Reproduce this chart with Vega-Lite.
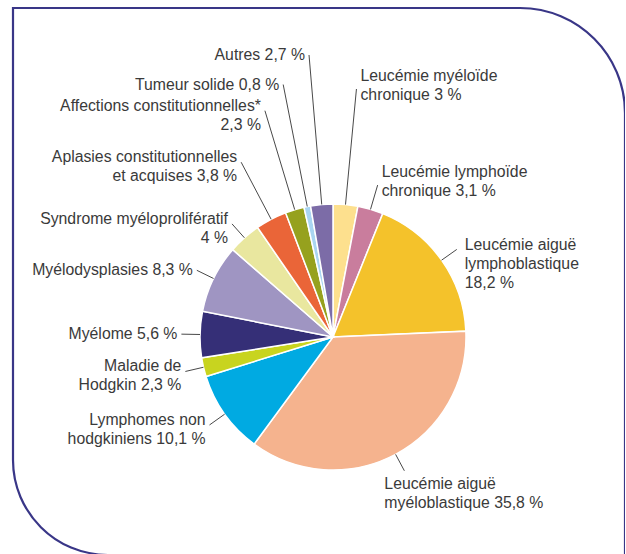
{
  "$schema": "https://vega.github.io/schema/vega-lite/v6.json",
  "width": 612,
  "height": 547,
  "autosize": {"type": "none"},
  "padding": {"left": 13, "top": 8, "right": 0, "bottom": 0},
  "background": "white",
  "config": {
    "view": {"stroke": null},
    "text": {"font": "Liberation Sans", "fontSize": 15.8, "color": "#3a3a3a", "lineHeight": 19}
  },
  "data": {
    "values": [
      {"order": 1, "cat": "Leucémie myéloïde chronique", "value": 3, "label": "Leucémie myéloïde\nchronique 3 %"},
      {"order": 2, "cat": "Leucémie lymphoïde chronique", "value": 3.1, "label": "Leucémie lymphoïde\nchronique 3,1 %"},
      {"order": 3, "cat": "Leucémie aiguë lymphoblastique", "value": 18.2, "label": "Leucémie aiguë\nlymphoblastique\n18,2 %"},
      {"order": 4, "cat": "Leucémie aiguë myéloblastique", "value": 35.8, "label": "Leucémie aiguë\nmyéloblastique 35,8 %"},
      {"order": 5, "cat": "Lymphomes non hodgkiniens", "value": 10.1, "label": "Lymphomes non\nhodgkiniens 10,1 %"},
      {"order": 6, "cat": "Maladie de Hodgkin", "value": 2.3, "label": "Maladie de\nHodgkin 2,3 %"},
      {"order": 7, "cat": "Myélome", "value": 5.6, "label": "Myélome 5,6 %"},
      {"order": 8, "cat": "Myélodysplasies", "value": 8.3, "label": "Myélodysplasies 8,3 %"},
      {"order": 9, "cat": "Syndrome myéloprolifératif", "value": 4, "label": "Syndrome myéloprolifératif\n4 %"},
      {"order": 10, "cat": "Aplasies constitutionnelles et acquises", "value": 3.8, "label": "Aplasies constitutionnelles\net acquises 3,8 %"},
      {"order": 11, "cat": "Affections constitutionnelles*", "value": 2.3, "label": "Affections constitutionnelles*\n2,3 %"},
      {"order": 12, "cat": "Tumeur solide", "value": 0.8, "label": "Tumeur solide 0,8 %"},
      {"order": 13, "cat": "Autres", "value": 2.7, "label": "Autres 2,7 %"}
    ]
  },
  "transform": [
    {"window": [{"op": "sum", "field": "value", "as": "cum"}], "sort": [{"field": "order"}], "frame": [null, 0]},
    {"calculate": "(datum.cum - datum.value / 2) / 100", "as": "mid"},
    {"calculate": "2 * PI * datum.mid", "as": "ang"},
    {"calculate": "datum.mid < 0.5 ? (248 - 3150 * (datum.mid - 0.015)) / 133 : (282 - 1688 * (1 - datum.mid - 0.0135)) / 133", "as": "ytop"},
    {"calculate": "cos(datum.ang) > 0 ? max(1.14, datum.ytop / cos(datum.ang)) : 1.14", "as": "rl"},
    {"calculate": "sin(datum.ang)", "as": "x0"},
    {"calculate": "cos(datum.ang)", "as": "y0"},
    {"calculate": "sin(datum.ang) * datum.rl", "as": "x1"},
    {"calculate": "cos(datum.ang) * datum.rl", "as": "y1"},
    {"calculate": "indexof(datum.label, '\\n') >= 0", "as": "multi"}
  ],
  "layer": [
    {
      "data": {"values": [{"frame": 1}]},
      "mark": {"type": "rect", "filled": false, "stroke": "#393687", "strokeWidth": 2.2, "cornerRadiusTopRight": 105, "cornerRadiusBottomLeft": 95},
      "encoding": {
        "x": {"value": 0},
        "x2": {"value": "width"},
        "y": {"value": 0},
        "y2": {"value": "height"}
      }
    },
    {
      "mark": {"type": "arc", "outerRadius": 133, "stroke": "white", "strokeWidth": 1.5},
      "encoding": {
        "theta": {"field": "value", "type": "quantitative", "stack": true},
        "order": {"field": "order", "type": "quantitative"},
        "color": {
          "field": "cat",
          "type": "nominal",
          "legend": null,
          "scale": {
            "domain": ["Leucémie myéloïde chronique", "Leucémie lymphoïde chronique", "Leucémie aiguë lymphoblastique", "Leucémie aiguë myéloblastique", "Lymphomes non hodgkiniens", "Maladie de Hodgkin", "Myélome", "Myélodysplasies", "Syndrome myéloprolifératif", "Aplasies constitutionnelles et acquises", "Affections constitutionnelles*", "Tumeur solide", "Autres"],
            "range": ["#FDE08E", "#C97D9D", "#F4C22B", "#F5B38E", "#00AAE2", "#C8D41F", "#352F77", "#9F95C2", "#E9E79F", "#EA6538", "#96A11E", "#A9D5F1", "#7C6CA7"]
          }
        },
        "x": {"datum": 0, "type": "quantitative", "axis": null, "scale": {"domain": [-2.406, 2.1955], "nice": false, "zero": false}},
        "y": {"datum": 0, "type": "quantitative", "axis": null, "scale": {"domain": [-1.6391, 2.4737], "nice": false, "zero": false}}
      }
    },
    {
      "mark": {"type": "rule", "color": "#333333", "strokeWidth": 0.9},
      "encoding": {
        "x": {"field": "x0", "type": "quantitative", "axis": null, "scale": {"domain": [-2.406, 2.1955], "nice": false, "zero": false}},
        "y": {"field": "y0", "type": "quantitative", "axis": null, "scale": {"domain": [-1.6391, 2.4737], "nice": false, "zero": false}},
        "x2": {"field": "x1"},
        "y2": {"field": "y1"}
      }
    },
    {
      "transform": [{"filter": "datum.mid >= 0.5 && !datum.multi"}],
      "mark": {"type": "text", "align": "right", "baseline": "middle", "dx": -4, "lineBreak": "\n"},
      "encoding": {
        "text": {"field": "label"},
        "x": {"field": "x1", "type": "quantitative", "axis": null, "scale": {"domain": [-2.406, 2.1955], "nice": false, "zero": false}},
        "y": {"field": "y1", "type": "quantitative", "axis": null, "scale": {"domain": [-1.6391, 2.4737], "nice": false, "zero": false}}
      }
    },
    {
      "transform": [{"filter": "datum.mid >= 0.5 && datum.multi"}],
      "mark": {"type": "text", "align": "right", "baseline": "middle", "dx": -4, "dy": -5, "lineBreak": "\n"},
      "encoding": {
        "text": {"field": "label"},
        "x": {"field": "x1", "type": "quantitative", "axis": null, "scale": {"domain": [-2.406, 2.1955], "nice": false, "zero": false}},
        "y": {"field": "y1", "type": "quantitative", "axis": null, "scale": {"domain": [-1.6391, 2.4737], "nice": false, "zero": false}}
      }
    },
    {
      "transform": [{"filter": "datum.mid < 0.1"}],
      "mark": {"type": "text", "align": "left", "baseline": "middle", "dx": 4, "dy": -13, "lineBreak": "\n"},
      "encoding": {
        "text": {"field": "label"},
        "x": {"field": "x1", "type": "quantitative", "axis": null, "scale": {"domain": [-2.406, 2.1955], "nice": false, "zero": false}},
        "y": {"field": "y1", "type": "quantitative", "axis": null, "scale": {"domain": [-1.6391, 2.4737], "nice": false, "zero": false}}
      }
    },
    {
      "transform": [{"filter": "datum.mid >= 0.1 && datum.mid < 0.3"}],
      "mark": {"type": "text", "align": "left", "baseline": "top", "dx": 8, "dy": -11, "lineBreak": "\n"},
      "encoding": {
        "text": {"field": "label"},
        "x": {"field": "x1", "type": "quantitative", "axis": null, "scale": {"domain": [-2.406, 2.1955], "nice": false, "zero": false}},
        "y": {"field": "y1", "type": "quantitative", "axis": null, "scale": {"domain": [-1.6391, 2.4737], "nice": false, "zero": false}}
      }
    },
    {
      "transform": [{"filter": "datum.mid >= 0.3 && datum.mid < 0.5"}],
      "mark": {"type": "text", "align": "left", "baseline": "top", "dx": -20, "dy": 6, "lineBreak": "\n"},
      "encoding": {
        "text": {"field": "label"},
        "x": {"field": "x1", "type": "quantitative", "axis": null, "scale": {"domain": [-2.406, 2.1955], "nice": false, "zero": false}},
        "y": {"field": "y1", "type": "quantitative", "axis": null, "scale": {"domain": [-1.6391, 2.4737], "nice": false, "zero": false}}
      }
    }
  ]
}
